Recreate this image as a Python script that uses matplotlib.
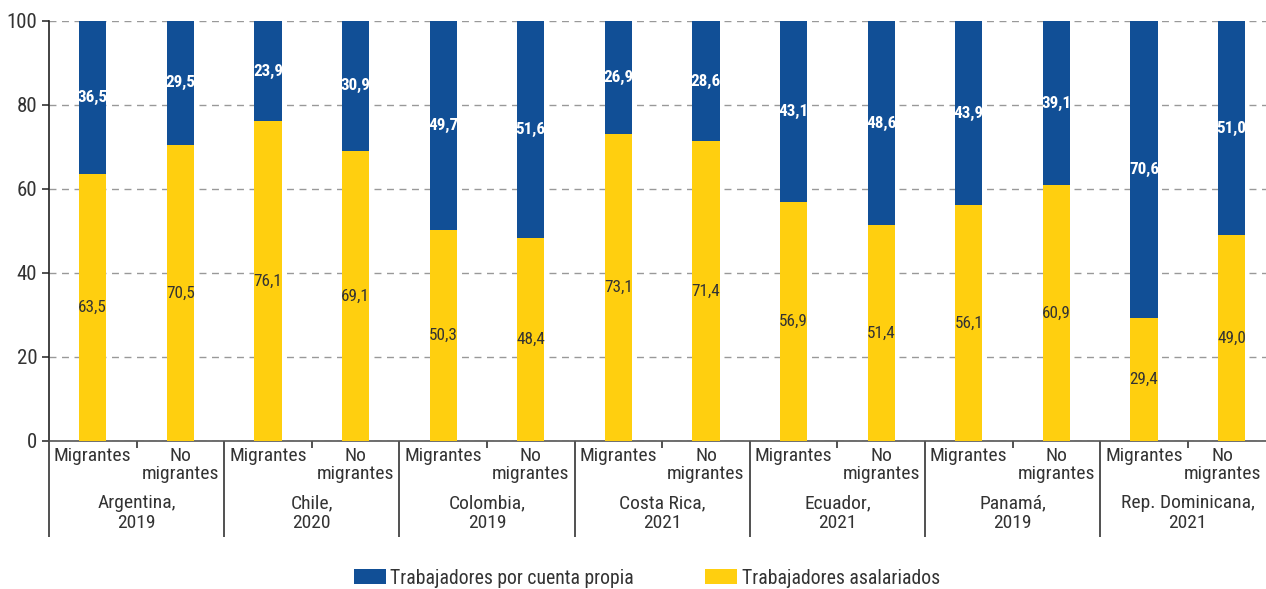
import numpy as np
import matplotlib.pyplot as plt
import matplotlib.transforms as mtransforms

plt.rcParams['font.family'] = ['Roboto Condensed', 'Roboto', 'DejaVu Sans']

paises = ['Argentina,\n2019', 'Chile,\n2020', 'Colombia,\n2019', 'Costa Rica,\n2021',
          'Ecuador,\n2021', 'Panamá,\n2019', 'Rep. Dominicana,\n2021']
grupos = ['Migrantes', 'No\nmigrantes']
asalariados = [63.5, 70.5, 76.1, 69.1, 50.3, 48.4, 73.1, 71.4, 56.9, 51.4, 56.1, 60.9, 29.4, 49.0]
cuenta_propia = [36.5, 29.5, 23.9, 30.9, 49.7, 51.6, 26.9, 28.6, 43.1, 48.6, 43.9, 39.1, 70.6, 51.0]

azul = '#114F96'
amarillo = '#FFCF0F'
gris = '#333333'

fig = plt.figure(figsize=(12.66, 5.89), dpi=100)
ax = fig.add_axes([49/1266, 1 - 441/589, (1266 - 49)/1266, 420/589])

x = np.arange(len(asalariados))
w = 0.31
ax.bar(x, asalariados, w, color=amarillo, label='Trabajadores asalariados', zorder=3)
ax.bar(x, cuenta_propia, w, bottom=asalariados, color=azul,
       label='Trabajadores por cuenta propia', zorder=3)

fmt = lambda v: f'{v:.1f}'.replace('.', ',')
for i in x:
    a, c = asalariados[i], cuenta_propia[i]
    ax.text(i, a / 2, fmt(a), ha='center', va='center', fontsize=12.3, color=gris, zorder=4)
    ax.text(i, a + c / 2, fmt(c), ha='center', va='center', fontsize=12.3, color='white',
            fontweight='bold', zorder=4)

# eje x en dos niveles
ax.set_xticks(np.arange(-0.5, len(x), 2))
ax.set_xticks(np.arange(0.5, len(x), 2), minor=True)
ax.tick_params(axis='x', which='major', length=69, width=1.2, color='#333333', labelbottom=False)
ax.tick_params(axis='x', which='minor', length=5, width=1.2, color='#333333', labelbottom=False)

ax.set_ylim(0, 100)
ax.set_xlim(-0.5, -0.5 + 1217 / 87.6)
ax.set_yticks([0, 20, 40, 60, 80, 100])
ax.tick_params(axis='y', labelsize=15, colors=gris, length=5, width=1.2)
ax.yaxis.grid(True, linestyle=(0, (5, 4)), color='#999999', linewidth=1, zorder=0)
for s in ['top', 'right']:
    ax.spines[s].set_visible(False)
ax.spines['left'].set_color('#222222')
ax.spines['left'].set_linewidth(1.2)
ax.spines['bottom'].set_color('#555555')
ax.spines['bottom'].set_linewidth(1.2)

trans = mtransforms.blended_transform_factory(ax.transData, ax.transAxes)
for i in x:
    # la última etiqueta se corre un poco para que no se corte en el borde
    xi = i - 0.1 if i == len(x) - 1 else i
    ax.text(xi, -6 / 420, grupos[i % 2], transform=trans, ha='center', va='top',
            fontsize=14, color=gris, linespacing=1.0)
for g, p in enumerate(paises):
    ax.text(2 * g + 0.5, -53 / 420, p, transform=trans, ha='center', va='top',
            fontsize=14, color=gris, linespacing=1.12)

h, l = ax.get_legend_handles_labels()
fig.legend(h[::-1], l[::-1], loc='center', bbox_to_anchor=(0.511, 1 - 578/589), ncol=2,
           frameon=False, fontsize=14.2, handlelength=1.6, handleheight=0.8,
           columnspacing=3.6, handletextpad=0.25, labelcolor=gris)

fig.savefig('out.png', dpi=100)
